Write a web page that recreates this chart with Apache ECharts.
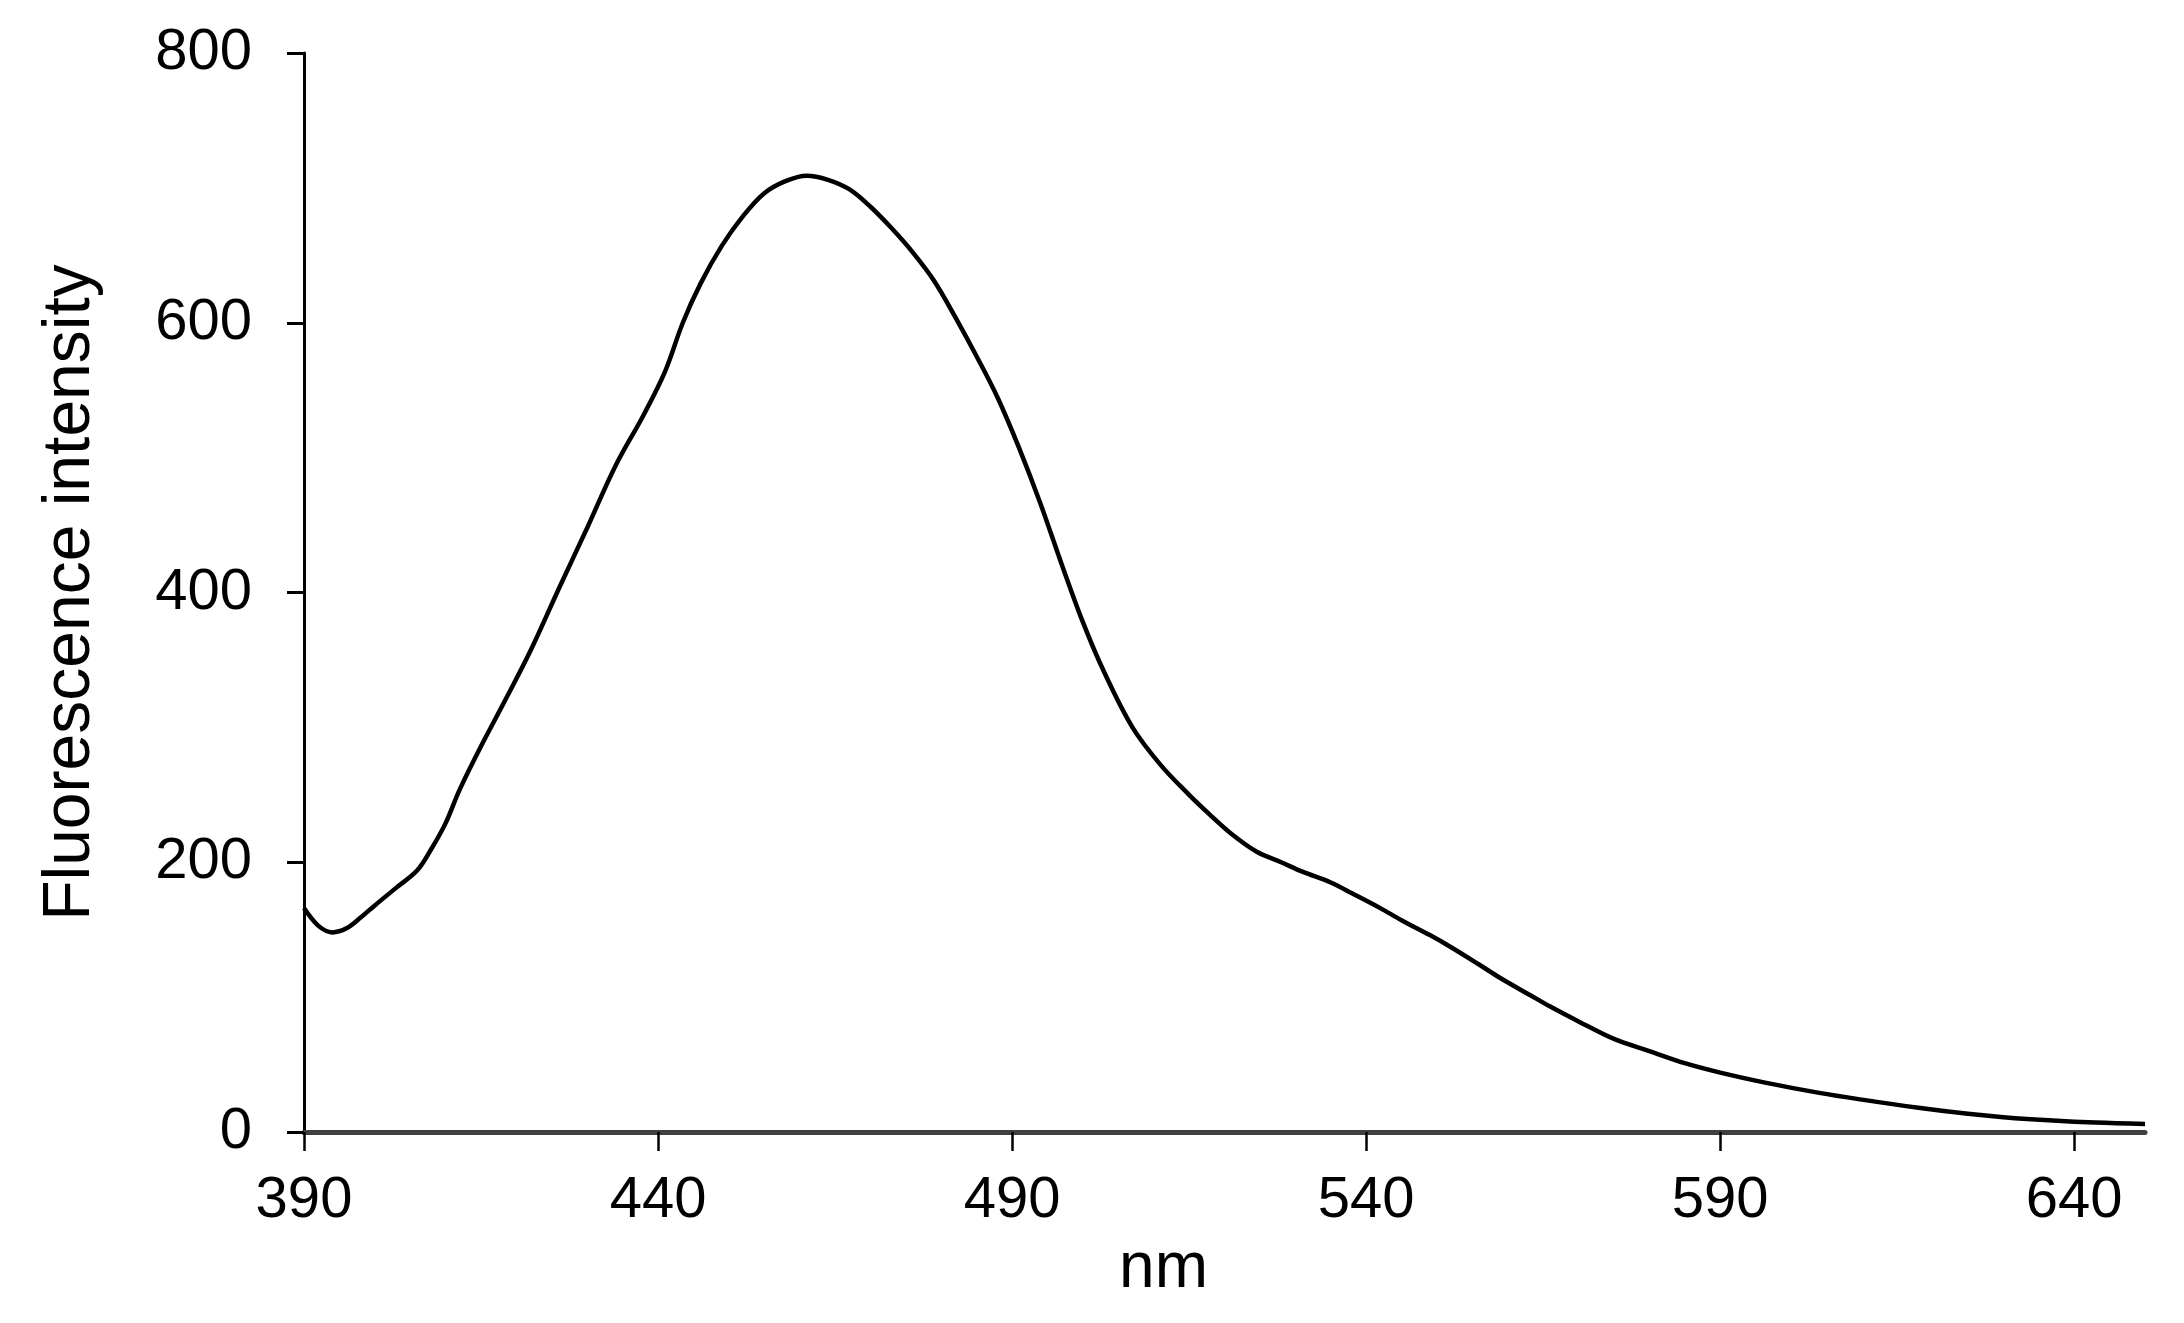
<!DOCTYPE html>
<html>
<head>
<meta charset="utf-8">
<script src="https://cdn.jsdelivr.net/npm/echarts@6/dist/echarts.min.js"></script>
<style>
html,body{margin:0;padding:0;background:#fff;}
#chart{width:2184px;height:1323px;}
</style>
</head>
<body>
<div id="chart"></div>
<script>
const wavelengths = [390,392,394,396,398,400,403,406,408,410,412,415,418,422,426,430,434,438,441,443.5,446,449,452,455,458,461,464,467,470,473,476,479,482,485,488,491,494,497,500,503,507,511,515,518,521,524.5,528,531,535,538,542,545,549,552,556,559,563,566,570,575,580,585,590,596,604,610,618,625,630,637,643,650];
const intensity = [166,153,148,151,159,168,181,194,210,229,254,286,316,357,403,448,494,532,564,600,629,657,679,696,705,709,706,699,686,670,652,631,604,575,544,507,466,421,378,341,300,272,250,235,221,208,200,193,185,177,166,157,146,137,124,114,102,93,82,69,60,51,44,37,29,24,18,13.5,11,8.5,7,6];
const xTickValues = [390,440,490,540,590,640];
const yTickValues = [0,200,400,600,800];
const xTitle = 'nm';
const yTitle = 'Fluorescence intensity';

const points = wavelengths.map((w, i) => [w, intensity[i]]);
const font = '"Liberation Sans", Arial, Helvetica, sans-serif';

const chart = echarts.init(document.getElementById('chart'), null, {renderer: 'canvas'});
chart.setOption({
  animation: false,
  backgroundColor: '#ffffff',
  grid: {left: 304, right: 39, top: 53, bottom: 191, containLabel: false},
  xAxis: {
    type: 'value',
    min: 390,
    max: 650,
    name: xTitle,
    nameLocation: 'middle',
    nameGap: 105,
    nameTextStyle: {fontFamily: font, fontSize: 64, color: '#000', padding: [0, 122, 0, 0]},
    axisLine: {show: true, onZero: false, lineStyle: {color: '#404040', width: 5}},
    axisTick: {show: true, length: 19, customValues: xTickValues, lineStyle: {color: '#000', width: 2.5}},
    axisLabel: {customValues: xTickValues, margin: 40, fontFamily: font, fontSize: 58, color: '#000'},
    splitLine: {show: false}
  },
  yAxis: {
    type: 'value',
    min: 0,
    max: 800,
    interval: 200,
    name: yTitle,
    nameLocation: 'middle',
    nameGap: 200,
    nameRotate: 90,
    nameTextStyle: {fontFamily: font, fontSize: 66, color: '#000'},
    axisLine: {show: true, lineStyle: {color: '#000', width: 3}},
    axisTick: {show: true, length: 17, lineStyle: {color: '#000', width: 3}},
    axisLabel: {margin: 52, fontFamily: font, fontSize: 58, color: '#000'},
    splitLine: {show: false}
  },
  series: [{
    type: 'line',
    data: points,
    smooth: 0.35,
    showSymbol: false,
    lineStyle: {color: '#000', width: 4.5}
  }]
});
</script>
</body>
</html>
